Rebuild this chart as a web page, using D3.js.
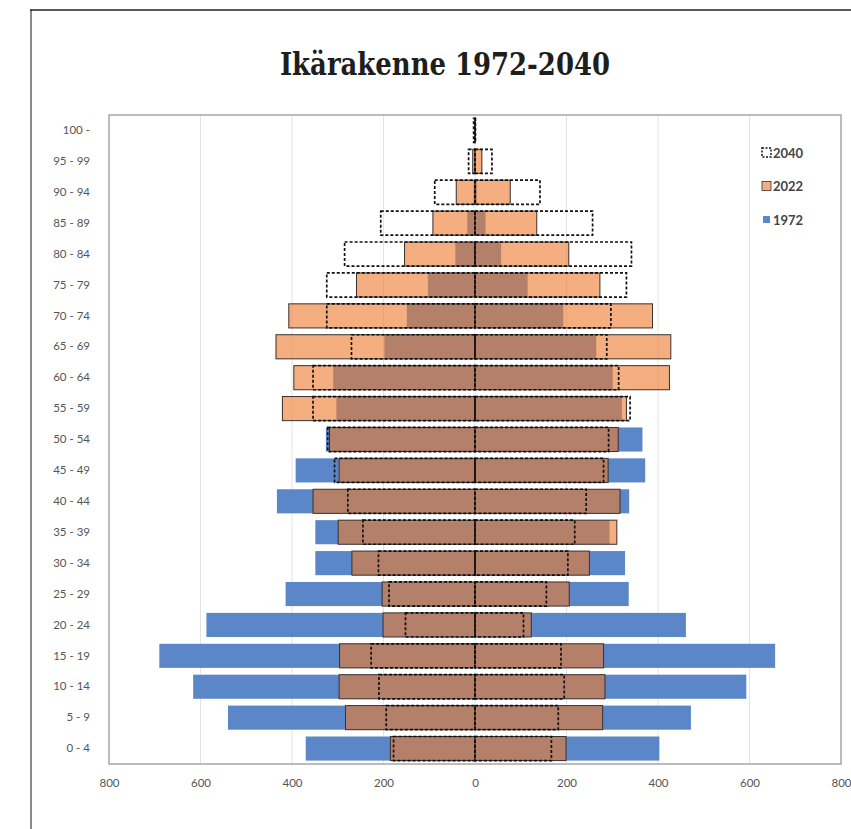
<!DOCTYPE html>
<html>
<head>
<meta charset="utf-8">
<script src="https://cdn.jsdelivr.net/npm/d3@7"></script>
<style>
  body { margin: 0; background: #fff; }
  .axis text { font-family: Lato, "Liberation Sans", sans-serif; font-size: 11.5px; fill: #555; }
  .axis path, .axis line { display: none; }
</style>
</head>
<body>
<div class="chart"></div>
<script>
var W = 851, H = 829;

// age groups, bottom to top
var ages = ['0 - 4', '5 - 9', '10 - 14', '15 - 19', '20 - 24', '25 - 29', '30 - 34',
  '35 - 39', '40 - 44', '45 - 49', '50 - 54', '55 - 59', '60 - 64', '65 - 69',
  '70 - 74', '75 - 79', '80 - 84', '85 - 89', '90 - 94', '95 - 99', '100 -'];

// left half of the pyramid / right half
var left1972  = [370, 540, 616, 690, 587, 414, 349, 349, 433, 392, 326, 303, 310, 198, 149, 103, 43, 17, 3, 1, 0];
var right1972 = [403, 472, 593, 656, 461, 336, 328, 294, 337, 372, 366, 321, 301, 265, 193, 115, 57, 23, 4, 2, 0];
var left2022  = [185, 283, 297, 296, 201, 203, 269, 299, 354, 297, 318, 421, 396, 435, 407, 259, 154, 92, 41, 5, 0];
var right2022 = [199, 279, 284, 281, 123, 206, 250, 310, 317, 291, 313, 331, 425, 428, 388, 273, 205, 135, 77, 15, 0];
var left2040  = [178, 194, 210, 227, 152, 188, 211, 245, 278, 307, 322, 354, 354, 270, 324, 324, 285, 206, 88, 14, 3];
var right2040 = [167, 182, 195, 188, 106, 156, 203, 218, 243, 281, 292, 339, 314, 288, 297, 331, 342, 257, 142, 37, 1];

var xTicks = [-800, -600, -400, -200, 0, 200, 400, 600, 800];
var legendKeys = ['2040', '2022', '1972'];

var plot = {left: 109, right: 841, top: 115, bottom: 764};

var svg = d3.select('div.chart').append('svg')
    .attr('width', W)
    .attr('height', H);

// outer frame
svg.append('line')
    .attr('x1', 31).attr('x2', 31).attr('y1', 10).attr('y2', H)
    .attr('stroke', '#8a8a8a').attr('stroke-width', 2);
svg.append('line')
    .attr('x1', 30).attr('x2', W).attr('y1', 10).attr('y2', 10)
    .attr('stroke', '#222').attr('stroke-width', 1.5);

svg.append('text')
    .attr('x', 445)
    .attr('y', 75)
    .attr('text-anchor', 'middle')
    .attr('font-family', '"DejaVu Serif Condensed", "DejaVu Serif", serif')
    .attr('font-weight', 'bold')
    .attr('font-size', 31)
    .attr('textLength', 330)
    .attr('lengthAdjust', 'spacingAndGlyphs')
    .attr('fill', '#1e1e1e')
    .text('Ikärakenne 1972-2040');

var xScale = d3.scaleLinear()
    .domain([-800, 800])
    .range([plot.left, plot.right]);
var yScale = d3.scaleBand()
    .domain(ages.slice().reverse())
    .range([plot.top, plot.bottom])
    .paddingInner(0.22)
    .paddingOuter(0.11);

// grid
svg.append('g')
  .selectAll('line')
  .data(xTicks.filter(d => Math.abs(d) < 800))
  .enter().append('line')
    .attr('x1', d => xScale(d)).attr('x2', d => xScale(d))
    .attr('y1', plot.top).attr('y2', plot.bottom)
    .attr('stroke', '#e3e3e3').attr('stroke-width', 1);

svg.append('g')
    .attr('class', 'x axis')
    .attr('transform', 'translate(0,' + (plot.bottom + 6) + ')')
    .call(d3.axisBottom(xScale)
          .tickValues(xTicks)
          .tickFormat(d => Math.abs(d)));

svg.append('g')
    .attr('class', 'y axis')
    .attr('transform', 'translate(' + (plot.left - 10) + ',0)')
    .call(d3.axisLeft(yScale));

var rows = ages.map((a, i) => ({
  age: a,
  l1972: left1972[i], r1972: right1972[i],
  l2022: left2022[i], r2022: right2022[i],
  l2040: left2040[i], r2040: right2040[i]
}));

function halves(key) {
  var out = [];
  rows.forEach(r => {
    out.push({age: r.age, from: -r['l' + key], to: 0});
    out.push({age: r.age, from: 0, to: r['r' + key]});
  });
  return out;
}

function drawBars(key, style) {
  var sel = svg.append('g').selectAll('rect')
    .data(halves(key).filter(d => d.to - d.from > 0))
    .enter().append('rect')
      .attr('x', d => xScale(d.from))
      .attr('width', d => xScale(d.to) - xScale(d.from))
      .attr('y', d => yScale(d.age))
      .attr('height', yScale.bandwidth());
  style(sel);
}

drawBars('1972', s => s.attr('fill', '#5b87c8'));
drawBars('2022', s => s
    .attr('fill', '#ed7d31')
    .attr('fill-opacity', 0.62)
    .attr('stroke', '#3a302c')
    .attr('stroke-width', 1));
drawBars('2040', s => s
    .attr('fill', 'none')
    .attr('stroke', '#111')
    .attr('stroke-width', 1.7)
    .attr('stroke-dasharray', '3,2'));

// plot frame
svg.append('rect')
    .attr('x', plot.left).attr('y', plot.top)
    .attr('width', plot.right - plot.left)
    .attr('height', plot.bottom - plot.top)
    .attr('fill', 'none')
    .attr('stroke', '#a6a6a6')
    .attr('stroke-width', 1.5);

// legend
var legend = svg.append('g')
    .attr('transform', 'translate(762,153)');
var item = legend.selectAll('g')
  .data(legendKeys)
  .enter().append('g')
    .attr('transform', (d, i) => 'translate(0,' + (i * 33.5) + ')');

item.filter(d => d === '2040').append('rect')
    .attr('x', 0).attr('y', -5).attr('width', 9).attr('height', 9)
    .attr('fill', 'none').attr('stroke', '#111')
    .attr('stroke-width', 1.5).attr('stroke-dasharray', '2,1.5');
item.filter(d => d === '2022').append('rect')
    .attr('x', 0).attr('y', -5).attr('width', 9).attr('height', 9)
    .attr('fill', '#ed7d31').attr('fill-opacity', 0.62)
    .attr('stroke', '#3a302c').attr('stroke-width', 0.8);
item.filter(d => d === '1972').append('rect')
    .attr('x', 1).attr('y', -4).attr('width', 7).attr('height', 7)
    .attr('fill', '#5b87c8');

item.append('text')
    .attr('x', 11)
    .attr('y', 4.5)
    .attr('font-family', 'Lato, "Liberation Sans", sans-serif')
    .attr('font-weight', 'bold')
    .attr('font-size', 13)
    .attr('fill', '#444')
    .text(d => d);
</script>
</body>
</html>
